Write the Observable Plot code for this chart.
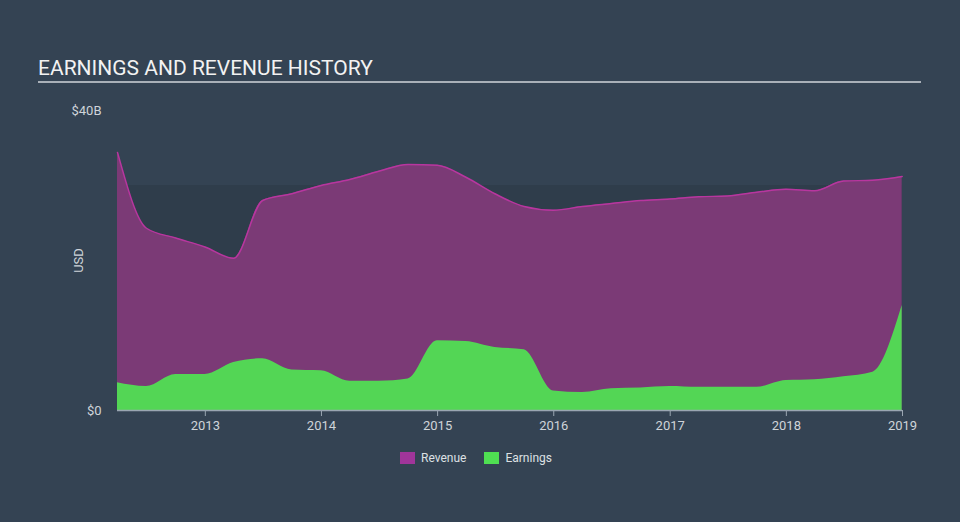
<!DOCTYPE html>
<html>
<head>
<meta charset="utf-8">
<script src="https://cdn.jsdelivr.net/npm/d3@7"></script>
<script src="https://cdn.jsdelivr.net/npm/@observablehq/plot@0.6"></script>
<style>
  html, body { margin: 0; padding: 0; }
  body { width: 960px; height: 522px; background: #344353; position: relative; overflow: hidden; font-family: Roboto, "Noto Sans", sans-serif; }
  #title { position: absolute; left: 38px; top: 56px; width: 883px; color: #f2f2f2; font-size: 21px; line-height: 24px; padding-bottom: 1px; border-bottom: 2px solid #a9b0b8; }
  #chart { position: absolute; left: 0; top: 90px; }
  #legend { position: absolute; top: 451px; left: 0; width: 960px; display: flex; justify-content: center; gap: 18px; font-size: 12px; color: #dde0e3; padding-right: 8px; box-sizing: border-box; }
  .item { display: flex; align-items: center; gap: 6px; }
  .sw { width: 15px; height: 12px; display: inline-block; }
</style>
</head>
<body>
<div id="title">EARNINGS AND REVENUE HISTORY</div>
<div id="chart"></div>
<div id="legend"></div>
<script>
// Quarter-end dates
const dates = ["2012-03-31","2012-06-30","2012-09-30","2012-12-31",
  "2013-03-31","2013-06-30","2013-09-30","2013-12-31",
  "2014-03-31","2014-06-30","2014-09-30","2014-12-31",
  "2015-03-31","2015-06-30","2015-09-30","2015-12-31",
  "2016-03-31","2016-06-30","2016-09-30","2016-12-31",
  "2017-03-31","2017-06-30","2017-09-30","2017-12-31",
  "2018-03-31","2018-06-30","2018-09-30","2018-12-31"];
// Values in billions USD
const revenue = [34.4, 24.3, 23.0, 21.8, 20.3, 28.0, 28.9, 30.0,
  30.8, 31.9, 32.8, 32.7, 31.1, 28.9, 27.2, 26.7,
  27.2, 27.6, 28.0, 28.2, 28.5, 28.6, 29.1, 29.5,
  29.3, 30.6, 30.7, 31.2];
const earnings = [3.7, 3.2, 4.8, 4.8, 6.4, 6.9, 5.4, 5.3,
  3.9, 3.9, 4.2, 9.3, 9.2, 8.4, 8.1, 2.6,
  2.4, 2.9, 3.0, 3.2, 3.1, 3.1, 3.1, 4.0,
  4.1, 4.5, 5.1, 14.0];
const xTickYears = [2013, 2014, 2015, 2016, 2017, 2018, 2019];
const yTickValues = [0, 40];
const seriesNames = ["Revenue", "Earnings"];
const seriesColors = ["#a0359a", "#4fdf52"];

const parse = d3.utcParse("%Y-%m-%d");
const rows = dates.map((d, i) => ({date: parse(d), revenue: revenue[i] * 1e9, earnings: earnings[i] * 1e9}));
const xStart = rows[0].date;
const xEnd = new Date(Date.UTC(2019, 0, 1));

const chart = Plot.plot({
  width: 960,
  height: 360,
  marginLeft: 117,
  marginRight: 58,
  marginTop: 20,
  marginBottom: 40,
  style: {background: "transparent", color: "#cfd4d9", fontSize: "13px", fontFamily: "Roboto, sans-serif"},
  x: {type: "utc", domain: [xStart, xEnd]},
  y: {domain: [0, 40e9]},
  marks: [
    Plot.rect([{x1: xStart, x2: xEnd, y1: 0, y2: 30e9}], {x1: "x1", x2: "x2", y1: "y1", y2: "y2", fill: "#2f3d4b"}),
    Plot.areaY(rows, {x: "date", y: "revenue", fill: "#7b3a76", curve: "monotone-x"}),
    Plot.lineY(rows, {x: "date", y: "revenue", stroke: "#b8369f", strokeWidth: 1.5, curve: "monotone-x"}),
    Plot.areaY(rows, {x: "date", y: "earnings", fill: "#53d655", curve: "monotone-x"}),
    Plot.ruleY([0], {stroke: "#9aa6b2", strokeWidth: 1.5}),
    Plot.axisX({
      ticks: xTickYears.map(y => new Date(Date.UTC(y, 0, 1))),
      tickFormat: d => String(d.getUTCFullYear()),
      tickSize: 6, tickPadding: 4, stroke: "#9aa6b2", label: null, fontSize: 13
    }),
    Plot.axisY({
      ticks: yTickValues.map(v => v * 1e9),
      tickFormat: v => v === 0 ? "$0" : "$" + (v / 1e9) + "B",
      tickSize: 0, tickPadding: 16, label: "USD", labelAnchor: "center", labelArrow: "none", labelOffset: 44, fontSize: 13
    })
  ]
});
document.getElementById("chart").appendChild(chart);

const legend = document.getElementById("legend");
seriesNames.forEach((n, i) => {
  const it = document.createElement("div");
  it.className = "item";
  const sw = document.createElement("span");
  sw.className = "sw";
  sw.style.background = seriesColors[i];
  const t = document.createElement("span");
  t.textContent = n;
  it.appendChild(sw); it.appendChild(t);
  legend.appendChild(it);
});
</script>
</body>
</html>
